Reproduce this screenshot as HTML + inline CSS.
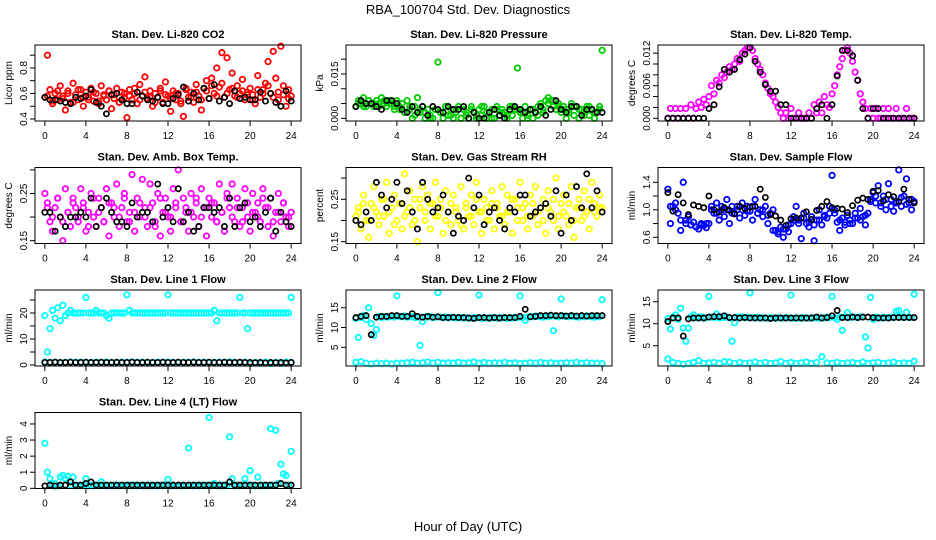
<!DOCTYPE html>
<html><head><meta charset="utf-8">
<style>
body{margin:0;background:#fff;}
svg{display:block;font-family:"Liberation Sans",sans-serif;}
</style></head>
<body>
<svg id="chart" width="936" height="540" viewBox="0 0 936 540" xmlns="http://www.w3.org/2000/svg">
<rect width="936" height="540" fill="#fff"/>
<text x="468" y="14" text-anchor="middle" font-size="13">RBA_100704  Std. Dev. Diagnostics</text>
<text x="468" y="531" text-anchor="middle" font-size="13">Hour of Day (UTC)</text>
</svg>
<script>
const hourTicks=[0,4,8,12,16,20,24];
const co2=[0.57,0.90,0.63,0.52,0.60,0.55,0.66,0.58,0.47,0.62,0.53,0.68,0.59,0.55,0.63,0.50,0.61,0.57,0.64,0.54,0.60,0.52,0.66,0.58,0.55,0.62,0.48,0.59,0.64,0.53,0.61,0.57,0.41,0.63,0.55,0.60,0.52,0.67,0.58,0.73,0.56,0.62,0.50,0.60,0.57,0.64,0.53,0.69,0.58,0.46,0.62,0.55,0.60,0.52,0.42,0.64,0.57,0.61,0.53,0.67,0.58,0.47,0.64,0.70,0.56,0.72,0.60,0.80,0.65,0.92,0.57,0.88,0.63,0.76,0.58,0.66,0.60,0.71,0.55,0.61,0.64,0.59,0.52,0.74,0.57,0.63,0.68,0.85,0.60,0.93,0.72,0.55,0.97,0.66,0.50,0.63,0.58];
const co2B=[0.58,0.54,0.62,0.56,0.60,0.53,0.63,0.57,0.55,0.61,0.54,0.59,0.62,0.56,0.53,0.60,0.58,0.64,0.55,0.61,0.57,0.53,0.62,0.59,0.56,0.60,0.54,0.63,0.57,0.61,0.55,0.62,0.66,0.58,0.68,0.60,0.64,0.57,0.62,0.59,0.55,0.63,0.60,0.66,0.57,0.61,0.59,0.56];
const co2K=[0.57,0.55,0.55,0.54,0.53,0.52,0.57,0.56,0.58,0.63,0.53,0.50,0.44,0.59,0.60,0.55,0.52,0.52,0.61,0.58,0.55,0.54,0.57,0.52,0.52,0.56,0.59,0.65,0.54,0.60,0.55,0.64,0.56,0.67,0.54,0.57,0.52,0.62,0.56,0.57,0.55,0.55,0.61,0.54,0.60,0.53,0.50,0.62,0.54];
const pres=[0.004,0.006,0.005,0.007,0.004,0.006,0.005,0.004,0.006,0.005,0.007,0.005,0.004,0.006,0.005,0.003,0.006,0.004,0.005,0.002,0.006,0.003,0.000,0.004,0.007,0.002,0.004,0.000,0.003,0.001,0.000,0.003,0.019,0.002,0.000,0.004,0.001,0.003,0.000,0.002,0.004,0.000,0.003,0.001,0.000,0.004,0.002,0.000,0.003,0.001,0.004,0.000,0.002,0.003,0.000,0.004,0.001,0.003,0.002,0.000,0.004,0.001,0.003,0.017,0.002,0.000,0.004,0.001,0.003,0.000,0.002,0.004,0.005,0.003,0.006,0.007,0.006,0.004,0.003,0.005,0.002,0.004,0.000,0.003,0.005,0.001,0.004,0.000,0.003,0.002,0.004,0.001,0.003,0.000,0.002,0.004,0.023];
const presB=[0.005,0.004,0.006,0.005,0.004,0.006,0.005,0.004,0.003,0.002,0.004,0.001,0.003,0.002,0.000,0.003,0.002,0.004,0.001,0.003,0.000,0.002,0.003,0.001,0.004,0.002,0.000,0.003,0.002,0.001,0.004,0.003,0.002,0.000,0.003,0.001,0.002,0.005,0.006,0.004,0.003,0.002,0.004,0.003,0.001,0.004,0.002,0.003];
const presK=[0.004,0.006,0.005,0.005,0.004,0.003,0.006,0.006,0.005,0.003,0.002,0.004,0.002,0.004,0.001,0.004,0.003,0.002,0.004,0.003,0.003,0.004,0.000,0.002,0.000,0.000,0.002,0.003,0.001,0.000,0.003,0.004,0.003,0.002,0.003,0.002,0.004,0.001,0.003,0.006,0.003,0.002,0.004,0.004,0.001,0.003,0.003,0.002,0.002];
const temp=[0,0.0018,0,0.0018,0,0.0018,0,0.0018,0,0.0025,0,0.0018,0.0030,0.0020,0.0035,0.0025,0.0040,
0.0060,0.0045,0.0070,0.0065,0.0080,0.0075,0.0085,0.0095,0.0090,0.0100,0.0110,0.0105,0.0120,0.0125,0.0130,0.0130,
0.0125,0.0110,0.0100,0.0090,0.0080,0.0065,0.0055,0.0045,0.0040,0.0030,0.0020,0.0010,
0,0.0010,0,0.0018,0,0,0.0010,0,0,0,0.0010,0,0.0025,0.0010,0.0030,0.0010,0.0040,0.0025,0.0020,0.0045,
0.0060,0.0080,0.0095,0.0110,0.0125,0.0130,0.0120,0.0105,
0.0085,0.0070,0.0045,0.0030,0.0018,0,
0.0018,0,0.0018,0,0,0.0018,0,0.0018,0,0,0.0018,0,0,0,0.0018,0,0,0];
const tempK=[0,0,0,0,0,0,0,0,0.0018,0.0025,0.0058,0.0090,0.0085,0.0090,0.0108,0.0118,0.0130,0.0105,0.0085,0.0062,0.0050,0.0050,0.0025,0.0025,0,0,0,0,0,0.0018,0.0025,0,0.0025,0.0078,0.0125,0.0125,0.0115,0.0070,0.0018,0,0.0018,0.0018,0,0,0,0,0,0,0];
const amb=[0.25,0.23,0.19,0.17,0.22,0.24,0.20,0.15,0.26,0.21,0.18,0.24,0.22,0.19,0.26,0.23,0.17,0.21,0.25,0.20,0.18,0.24,0.22,0.19,0.26,0.16,0.23,0.20,0.27,0.18,0.22,0.25,0.19,0.21,0.29,0.17,0.24,0.20,0.28,0.22,0.18,0.27,0.23,0.19,0.25,0.16,0.21,0.24,0.20,0.17,0.26,0.22,0.30,0.19,0.24,0.21,0.17,0.25,0.20,0.23,0.18,0.26,0.22,0.16,0.24,0.20,0.23,0.19,0.27,0.21,0.17,0.25,0.22,0.27,0.19,0.24,0.18,0.22,0.26,0.20,0.17,0.25,0.21,0.23,0.19,0.26,0.22,0.18,0.24,0.16,0.21,0.25,0.19,0.23,0.20,0.18,0.21];
const ambB=[0.22,0.20,0.24,0.19,0.21,0.23,0.20,0.22,0.18,0.24,0.21,0.19,0.23,0.22,0.20,0.24,0.19,0.21,0.23,0.20,0.22,0.18,0.24,0.21,0.20,0.23,0.19,0.22,0.21,0.24,0.20,0.22,0.23,0.19,0.21,0.24,0.20,0.22,0.19,0.23,0.21,0.20,0.24,0.22,0.19,0.21,0.23,0.20];
const ambK=[0.21,0.21,0.17,0.20,0.18,0.20,0.20,0.21,0.20,0.24,0.18,0.22,0.24,0.21,0.19,0.19,0.18,0.23,0.20,0.21,0.21,0.19,0.27,0.20,0.22,0.19,0.26,0.19,0.21,0.17,0.18,0.22,0.22,0.21,0.22,0.18,0.24,0.18,0.22,0.23,0.19,0.20,0.18,0.21,0.24,0.17,0.21,0.19,0.18];
const rh=[0.21,0.23,0.18,0.26,0.20,0.16,0.24,0.28,0.22,0.19,0.25,0.21,0.29,0.17,0.23,0.26,0.20,0.24,0.18,0.31,0.22,0.27,0.19,0.25,0.15,0.23,0.28,0.20,0.26,0.18,0.24,0.29,0.21,0.25,0.17,0.27,0.22,0.19,0.26,0.23,0.20,0.28,0.18,0.24,0.21,0.26,0.19,0.29,0.22,0.17,0.25,0.23,0.20,0.27,0.18,0.24,0.21,0.28,0.19,0.26,0.22,0.17,0.25,0.23,0.29,0.20,0.24,0.18,0.26,0.21,0.28,0.19,0.23,0.25,0.17,0.27,0.22,0.20,0.30,0.18,0.24,0.26,0.21,0.19,0.28,0.16,0.23,0.25,0.20,0.27,0.22,0.18,0.29,0.24,0.21,0.26,0.23];
const rhB=[0.22,0.24,0.20,0.23,0.21,0.25,0.22,0.19,0.24,0.21,0.23,0.20,0.25,0.22,0.24,0.21,0.23,0.20,0.24,0.22,0.19,0.23,0.21,0.25,0.22,0.20,0.24,0.23,0.21,0.22,0.25,0.20,0.23,0.21,0.24,0.22,0.20,0.23,0.25,0.21,0.22,0.24,0.20,0.23,0.21,0.25,0.22,0.23];
const rhK=[0.20,0.19,0.22,0.20,0.29,0.26,0.23,0.25,0.29,0.24,0.27,0.22,0.18,0.29,0.25,0.22,0.23,0.26,0.22,0.17,0.21,0.20,0.30,0.23,0.26,0.19,0.22,0.23,0.20,0.18,0.23,0.22,0.26,0.26,0.21,0.22,0.23,0.24,0.21,0.27,0.17,0.26,0.20,0.28,0.23,0.31,0.23,0.27,0.22];
const flow=[1.30,0.80,1.05,1.10,0.95,0.70,1.40,0.85,0.90,0.78,0.82,0.75,0.72,0.80,0.77,0.74,0.80,1.05,0.95,1.10,0.85,1.00,0.90,1.15,0.80,1.05,0.95,1.00,0.88,1.10,0.92,1.05,0.98,0.85,1.15,0.95,1.00,0.90,1.05,0.80,0.95,1.00,0.70,0.65,0.75,0.60,0.72,0.68,0.80,0.90,1.05,0.85,0.58,0.95,0.80,0.75,0.90,0.55,0.85,1.00,0.78,0.92,0.88,1.05,1.50,0.95,0.82,0.70,0.88,0.78,0.92,0.85,0.80,0.95,0.88,1.02,0.90,0.78,0.95,1.12,1.25,1.10,1.35,1.05,1.20,1.00,1.38,1.15,0.98,1.10,1.58,1.05,1.20,1.45,1.10,1.00,1.12];
const flowB=[1.05,1.00,0.85,0.80,0.78,0.75,0.78,0.80,1.00,0.95,1.05,1.00,0.95,1.05,1.00,0.98,1.05,0.95,1.00,0.92,0.70,0.68,0.72,0.78,0.85,0.80,0.88,0.82,0.78,0.85,0.90,0.95,1.00,0.85,0.82,0.80,0.88,0.85,0.92,1.15,1.20,1.10,1.15,1.05,1.12,1.18,1.08,1.15];
const flowK=[1.25,0.98,1.22,1.10,0.93,1.07,1.05,1.03,1.20,1.00,0.97,1.03,0.99,0.94,1.05,1.02,1.04,1.05,1.30,1.18,0.93,0.91,0.85,0.77,0.87,0.88,0.88,0.97,0.86,0.99,1.05,1.12,1.03,1.02,1.01,0.96,1.06,1.14,1.17,1.15,1.27,1.28,1.13,1.22,1.19,1.12,1.30,1.15,1.10];
const l1hi=[19,5,14,21,18,22,17,23,19,20,21,20,20,20,20,20,26,20,20,20,21,20,20,20,19,18,20,20,20,20,20,20,27,21,20,20,20,20,20,20,20,20,20,20,20,20,20,20,27,20,20,20,20,20,20,20,20,20,20,20,20,20,20,20,20,20,21,17,20,20,20,20,20,20,20,20,26,20,20,14,20,20,20,20,20,20,20,20,20,20,20,20,20,20,20,20,26];
const l1lo=[1.2,1.0,1.1,0.9,1.0,1.2,1.0,1.1,0.9,1.0,1.1,1.0,1.2,1.0,0.9,1.1,1.0,1.2,1.0,1.1,0.9,1.0,1.1,1.0,1.2,1.0,0.9,1.1,1.0,1.2,1.0,1.1,0.9,1.0,1.1,1.0,1.2,1.0,0.9,1.1,0.5,1.0,0.6,1.1,0.5,1.0,0.6,1.1,1.0];
const l1K=[1.0,1.0,1.1,1.0,1.0,1.1,1.0,1.0,1.1,1.0,1.0,1.1,1.0,1.0,1.1,1.0,1.0,1.1,1.0,1.0,1.1,1.0,1.0,1.1,1.0,1.0,1.1,1.0,1.0,1.1,1.0,1.0,1.1,1.0,1.0,1.1,1.0,1.0,1.1,1.0,1.0,0.9,1.0,0.8,1.0,0.9,1.0,0.8,1.0];
const l2hi=[12.3,7.5,12.5,13.0,12.0,15.0,11.0,8.0,9.5,12.8,12.5,12.8,12.6,12.7,12.8,12.6,18.0,12.8,12.7,12.9,12.6,12.7,12.8,12.5,12.6,5.5,11.5,12.7,12.6,12.8,12.5,12.6,18.8,12.6,12.5,12.7,12.4,12.6,12.5,12.4,12.6,12.5,12.3,12.5,12.4,12.3,12.5,12.4,18.2,12.3,12.5,12.4,12.3,12.5,12.4,12.3,12.5,12.4,12.5,12.3,12.5,12.4,12.6,12.5,18.0,12.5,11.8,12.6,12.8,12.7,12.9,12.8,12.7,12.6,12.8,12.7,12.9,9.2,12.8,12.7,17.2,12.9,12.8,12.7,12.9,12.8,12.7,12.6,12.8,12.7,12.9,12.8,12.7,12.6,12.8,12.7,17.0];
const l2lo=[1.2,1.4,1.0,0.8,1.0,0.9,1.0,0.8,1.0,1.0,1.1,1.2,1.0,1.1,1.3,1.0,1.2,1.0,1.1,1.0,1.2,1.0,1.1,1.3,1.0,1.2,1.0,1.1,1.0,1.2,1.0,1.1,0.9,1.0,1.1,1.0,1.2,1.0,1.1,1.0,1.0,1.1,1.0,1.2,1.0,1.1,1.0,1.0,0.9];
const l2K=[12.5,12.8,13.0,8.2,12.6,12.8,12.8,13.0,13.0,12.8,12.8,13.5,12.8,12.6,12.8,12.6,12.7,12.5,12.5,12.6,12.5,12.5,12.4,12.3,12.5,12.5,12.4,12.5,12.4,12.5,12.5,12.5,12.8,14.6,12.7,12.8,13.0,13.0,13.1,13.0,13.0,12.9,13.0,12.9,13.0,12.9,13.0,13.0,13.0];
const l3hi=[11.2,8.8,11.5,12.0,11.0,13.5,9.0,6.0,9.0,11.5,12.0,11.3,11.5,11.6,11.2,11.4,16.2,11.5,11.4,12.2,11.3,11.5,11.4,11.6,11.3,6.0,10.2,11.5,11.4,11.6,11.3,11.5,17.0,11.4,11.3,11.5,11.2,11.4,11.3,11.2,11.4,11.3,11.2,11.4,11.3,11.2,11.4,11.3,16.5,11.2,11.4,11.3,11.2,11.4,11.3,11.2,11.4,11.3,11.4,11.2,11.4,11.3,11.5,11.4,16.2,11.4,11.0,11.5,8.5,11.6,12.5,11.4,11.6,11.5,11.4,11.6,11.5,7.0,4.5,16.0,11.0,11.5,11.4,11.3,11.5,11.4,11.3,11.5,11.4,12.8,13.0,11.5,11.4,12.6,11.5,11.4,16.7];
const l3lo=[2.0,1.2,1.0,0.8,1.0,1.2,1.6,1.0,1.1,1.2,1.0,1.4,1.3,1.0,1.2,1.0,1.1,1.3,1.0,1.2,1.0,1.1,1.4,1.0,1.2,1.0,1.1,1.3,1.0,1.2,2.5,1.1,1.0,1.2,1.0,1.1,1.2,1.0,1.3,1.0,1.1,1.2,1.0,1.1,1.3,1.0,1.1,1.0,1.5];
const l3K=[10.5,11.3,11.3,7.2,11.1,11.3,11.3,11.3,11.5,11.6,11.6,11.8,11.4,11.4,11.3,11.4,11.3,11.3,11.3,11.3,11.2,11.3,11.3,11.3,11.3,11.3,11.3,11.3,11.3,11.5,11.3,11.4,11.8,13.0,11.4,11.4,11.5,11.4,11.5,11.5,11.4,11.3,11.3,11.3,11.4,11.4,11.4,11.4,11.4];
const l4lo=[2.8,1.0,0.6,0.2,0.3,0.15,0.7,0.8,0.6,0.75,0.2,0.7,0.15,0.2,0.15,0.2,0.6,0.15,0.2,0.15,0.2,0.15,0.4,0.2,0.15,0.2,0.15,0.2,0.15,0.2,0.15,0.2,0.15,0.2,0.15,0.2,0.15,0.2,0.15,0.2,0.15,0.2,0.15,0.2,0.15,0.2,0.15,0.2,0.55,0.15,0.2,0.15,0.2,0.15,0.2,0.15,2.5,0.2,0.15,0.2,0.15,0.2,0.15,0.2,4.4,0.2,0.3,0.2,0.15,0.2,0.15,0.2,3.2,0.6,0.15,0.2,0.15,0.2,0.6,0.2,1.1,0.2,0.15,0.7,0.15,0.2,0.15,0.2,3.7,0.2,3.6,0.3,1.5,0.9,0.8,0.2,2.3];
const l4K=[0.15,0.2,0.15,0.2,0.2,0.4,0.2,0.2,0.3,0.4,0.2,0.2,0.2,0.2,0.2,0.2,0.2,0.2,0.2,0.2,0.2,0.2,0.2,0.2,0.2,0.2,0.2,0.2,0.2,0.2,0.2,0.2,0.2,0.2,0.2,0.2,0.4,0.2,0.2,0.2,0.2,0.2,0.2,0.2,0.2,0.2,0.3,0.2,0.2];

const panels=[
 {name:'co2',title:'Stan. Dev. Li-820 CO2',ylab:'Licor ppm',r:0,c:0,ylo:0.384,yhi:0.98,ticks:[0.4,0.5,0.6,0.7,0.8,0.9],labels:[[0.4,'0.4'],[0.6,'0.6'],[0.8,'0.8']],color:'#ff0000',series:[co2],seriesB:[co2B],black:co2K},
 {name:'pressure',title:'Stan. Dev. Li-820 Pressure',ylab:'kPa',r:0,c:1,ylo:-0.0009,yhi:0.0248,ticks:[0,0.005,0.01,0.015,0.02],labels:[[0,'0.000'],[0.015,'0.015']],color:'#00cc00',series:[pres],seriesB:[presB],black:presK},
 {name:'temp',title:'Stan. Dev. Li-820 Temp.',ylab:'degrees C',r:0,c:2,ylo:-0.0005,yhi:0.0135,ticks:[0,0.002,0.004,0.006,0.008,0.010,0.012],labels:[[0,'0.000'],[0.006,'0.006'],[0.012,'0.012']],color:'#ff00ff',series:[temp],seriesB:[],black:tempK},
 {name:'amb-box',title:'Stan. Dev. Amb. Box Temp.',ylab:'degrees C',r:1,c:0,ylo:0.144,yhi:0.305,ticks:[0.15,0.2,0.25,0.3],labels:[[0.15,'0.15'],[0.25,'0.25']],color:'#ff00ff',series:[amb],seriesB:[ambB],black:ambK},
 {name:'rh',title:'Stan. Dev. Gas Stream RH',ylab:'percent',r:1,c:1,ylo:0.1457,yhi:0.325,ticks:[0.15,0.2,0.25,0.3],labels:[[0.15,'0.15'],[0.25,'0.25']],color:'#ffff00',series:[rh],seriesB:[rhB],black:rhK},
 {name:'sample-flow',title:'Stan. Dev. Sample Flow',ylab:'ml/min',r:1,c:2,ylo:0.51,yhi:1.615,ticks:[0.6,0.8,1.0,1.2,1.4],labels:[[0.6,'0.6'],[1.0,'1.0'],[1.4,'1.4']],color:'#0000ff',series:[flow],seriesB:[flowB],black:flowK},
 {name:'line1',title:'Stan. Dev. Line 1 Flow',ylab:'ml/min',r:2,c:0,ylo:-0.38,yhi:28.85,ticks:[0,5,10,15,20,25],labels:[[0,'0'],[10,'10'],[20,'20']],color:'#00ffff',series:[l1hi,l1lo],seriesB:[],black:l1K},
 {name:'line2',title:'Stan. Dev. Line 2 Flow',ylab:'ml/min',r:2,c:1,ylo:0.28,yhi:19.47,ticks:[5,10,15],labels:[[5,'5'],[10,'10'],[15,'15']],color:'#00ffff',series:[l2hi,l2lo],seriesB:[],black:l2K},
 {name:'line3',title:'Stan. Dev. Line 3 Flow',ylab:'ml/min',r:2,c:2,ylo:0.39,yhi:17.66,ticks:[5,10,15],labels:[[5,'5'],[10,'10'],[15,'15']],color:'#00ffff',series:[l3hi,l3lo],seriesB:[],black:l3K},
 {name:'line4',title:'Stan. Dev. Line 4 (LT) Flow',ylab:'ml/min',r:3,c:0,ylo:-0.01,yhi:4.71,ticks:[0,1,2,3,4],labels:[[0,'0'],[1,'1'],[2,'2'],[3,'3'],[4,'4']],color:'#00ffff',series:[l4lo],seriesB:[],black:l4K}
];
const NS='http://www.w3.org/2000/svg';
const svg=document.getElementById('chart');
const colLeft=[35,346,658], W=266, H=76;
function mk(tag,attrs,parent){const e=document.createElementNS(NS,tag);for(const k in attrs)e.setAttribute(k,attrs[k]);parent.appendChild(e);return e;}
panels.forEach(p=>{
  const L=colLeft[p.c], T=45+122.5*p.r, B=T+H, R=L+W;
  const g=document.createElementNS(NS,'g');svg.appendChild(g);
  
  
  const xs=x=>L+(x+0.96)/25.92*W;
  const ys=v=>B-(v-p.ylo)/(p.yhi-p.ylo)*H;
  const t=mk('text',{x:(L+R)/2,y:T-7,'text-anchor':'middle','font-size':'11','font-weight':'bold'},g);t.textContent=p.title;
  
  
  const pts=mk('g',{},g);
  
  
  p.series.forEach(s=>{s.forEach((v,i)=>{
    const c=mk('circle',{cx:xs(i*24/(s.length-1)),cy:ys(v),r:2.7,fill:'none',stroke:p.color,'stroke-width':1.8},pts);
    
    
  });});
  p.seriesB.forEach(s=>{s.forEach((v,i)=>{
    const c=mk('circle',{cx:xs((i+0.5)*24/s.length),cy:ys(v),r:2.7,fill:'none',stroke:p.color,'stroke-width':1.8},pts);
    
    
  });});
  p.black.forEach((v,i)=>{
    const c=mk('circle',{cx:xs(i*24/(p.black.length-1)),cy:ys(v),r:2.6,fill:'none',stroke:'#000','stroke-width':1.7},pts);
    
    
  });
  const box=mk('rect',{x:L,y:T,width:W,height:H,fill:'none',stroke:'#000','stroke-width':1},g);
  
  
  mk('line',{x1:xs(0),x2:xs(24),y1:B,y2:B,stroke:'#000'},g);
  hourTicks.forEach(h=>{
    mk('line',{x1:xs(h),x2:xs(h),y1:B,y2:B+5,stroke:'#000'},g);
    const tl=mk('text',{x:xs(h),y:B+18,'text-anchor':'middle','font-size':'10'},g);tl.textContent=h;
    
    
  });
  mk('line',{x1:L,x2:L,y1:ys(p.ticks[0]),y2:ys(p.ticks[p.ticks.length-1]),stroke:'#000'},g);
  p.ticks.forEach(v=>mk('line',{x1:L-5,x2:L,y1:ys(v),y2:ys(v),stroke:'#000'},g));
  p.labels.forEach(([v,s])=>{
    const yl=mk('text',{x:0,y:0,'text-anchor':'middle','font-size':'10',transform:`translate(${L-8},${ys(v)}) rotate(-90)`},g);yl.textContent=s;
    
    
  });
  const yt=mk('text',{x:0,y:0,'text-anchor':'middle','font-size':'10',transform:`translate(${L-23},${(T+B)/2}) rotate(-90)`},g);yt.textContent=p.ylab;
  
  
});
</script>
</body></html>
